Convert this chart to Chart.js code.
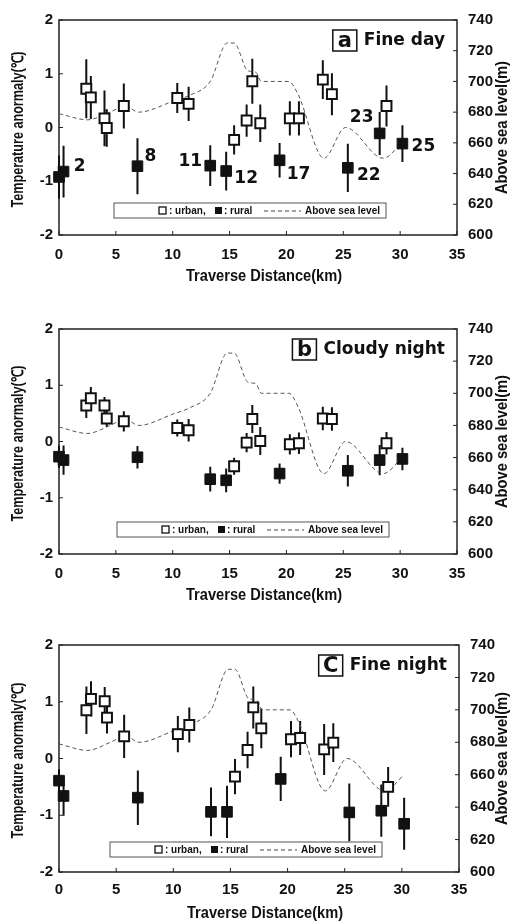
<!DOCTYPE html>
<html>
<head>
<meta charset="utf-8">
<script src="https://cdn.jsdelivr.net/npm/chart.js@4.4.1/dist/chart.umd.min.js"></script>
<style>
html, body { margin: 0; padding: 0; background: #fff; }
body { width: 525px; height: 924px; position: relative; overflow: hidden; }
canvas { position: absolute; left: 0; }
</style>
</head>
<body>
<canvas id="chartA" width="525" height="290" style="top:0px"></canvas>
<canvas id="chartB" width="525" height="310" style="top:300px"></canvas>
<canvas id="chartC" width="525" height="314" style="top:610px"></canvas>
<script>
// tick values
const xTicks = [0, 5, 10, 15, 20, 25, 30, 35];
const tempTicks = [-2, -1, 0, 1, 2];
const elevTicks = [600, 620, 640, 660, 680, 700, 720, 740];

// station positions along the traverse (km)
const urbanX = [2.4, 2.8, 4.0, 4.2, 5.7, 10.4, 11.4, 15.4, 16.5, 17.0, 17.7, 20.3, 21.1, 23.2, 24.0, 28.8];
const ruralX = [0.0, 0.4, 6.9, 13.3, 14.7, 19.4, 25.4, 28.2, 30.2];

// elevation profile (m)
const elevX = [0, 2.5, 4.5, 5.8, 7, 10, 11.5, 13.3, 14.8, 15.4, 16.6, 17.3, 17.8, 20.2, 21, 23.3, 25.2, 28.5, 30.2];
const elevM = [679, 675, 680, 684, 680, 687, 691, 700, 725, 725, 707, 706, 700, 700, 692, 650, 670, 650, 660];

// a: fine day
const urbanA = [0.72, 0.56, 0.17, -0.01, 0.40, 0.55, 0.44, -0.23, 0.13, 0.86, 0.08, 0.17, 0.17, 0.89, 0.62, 0.40];
const urbanErrA = [0.55, 0.40, 0.52, 0.35, 0.42, 0.28, 0.32, 0.27, 0.30, 0.42, 0.35, 0.32, 0.32, 0.36, 0.39, 0.38];
const ruralA = [-0.92, -0.82, -0.72, -0.71, -0.81, -0.61, -0.75, -0.11, -0.30];
const ruralErrA = [0.40, 0.48, 0.52, 0.38, 0.36, 0.32, 0.45, 0.40, 0.34];
const ruralNames = ['', '2', '8', '11', '12', '17', '22', '23', '25'];

// b: cloudy night
const urbanB = [0.64, 0.77, 0.64, 0.41, 0.36, 0.24, 0.20, -0.44, -0.02, 0.40, 0.01, -0.05, -0.03, 0.41, 0.40, -0.03];
const urbanErrB = [0.22, 0.20, 0.15, 0.15, 0.18, 0.15, 0.20, 0.15, 0.17, 0.25, 0.25, 0.18, 0.19, 0.21, 0.21, 0.20];
const ruralB = [-0.27, -0.33, -0.28, -0.67, -0.69, -0.57, -0.52, -0.33, -0.31];
const ruralErrB = [0.20, 0.26, 0.20, 0.22, 0.21, 0.18, 0.28, 0.27, 0.20];

// c: fine night
const urbanC = [0.85, 1.05, 1.01, 0.72, 0.39, 0.43, 0.59, -0.32, 0.15, 0.90, 0.53, 0.34, 0.36, 0.16, 0.28, -0.50];
const urbanErrC = [0.42, 0.31, 0.25, 0.28, 0.38, 0.32, 0.31, 0.31, 0.32, 0.37, 0.35, 0.32, 0.30, 0.45, 0.34, 0.35];
const ruralC = [-0.39, -0.66, -0.69, -0.94, -0.94, -0.36, -0.95, -0.92, -1.15];
const ruralErrC = [0.20, 0.35, 0.48, 0.43, 0.46, 0.39, 0.51, 0.46, 0.46];

const sans = "'Liberation Sans', Arial, sans-serif";

// squeeze text horizontally so it spans the given width
function fitText(ctx, text, x, y, width, rotated) {
    const w = ctx.measureText(text).width;
    ctx.save();
    ctx.translate(x, y);
    if (rotated) ctx.rotate(-Math.PI / 2);
    ctx.scale(Math.min(1, width / w), 1);
    ctx.fillText(text, 0, 0);
    ctx.restore();
}

// box, inward ticks and error bars
const frame = {
    id: 'frame',
    beforeDatasetsDraw(chart) {
        const {ctx, chartArea: a, scales} = chart;
        ctx.save();
        ctx.strokeStyle = '#222';
        ctx.lineWidth = 1.5;
        ctx.strokeRect(a.left, a.top, a.right - a.left, a.bottom - a.top);
        ctx.lineWidth = 1;
        ctx.beginPath();
        xTicks.forEach(v => {
            const p = scales.x.getPixelForValue(v);
            ctx.moveTo(p, a.bottom); ctx.lineTo(p, a.bottom - 4);
        });
        tempTicks.forEach(v => {
            const p = scales.y.getPixelForValue(v);
            ctx.moveTo(a.left, p); ctx.lineTo(a.left + 4, p);
        });
        elevTicks.forEach(v => {
            const p = scales.y2.getPixelForValue(v);
            ctx.moveTo(a.right, p); ctx.lineTo(a.right - 4, p);
        });
        ctx.stroke();

        ctx.strokeStyle = '#111';
        ctx.lineWidth = 2;
        ctx.beginPath();
        chart.data.datasets.forEach(ds => {
            if (!ds.errors) return;
            ds.data.forEach((pt, j) => {
                const px = scales.x.getPixelForValue(pt.x);
                ctx.moveTo(px, scales.y.getPixelForValue(pt.y + ds.errors[j]));
                ctx.lineTo(px, scales.y.getPixelForValue(pt.y - ds.errors[j]));
            });
        });
        ctx.stroke();
        ctx.restore();
    }
};

// panel letter, legend box, station numbers, axis titles
const deco = {
    id: 'deco',
    afterDraw(chart, args, opts) {
        const {ctx, chartArea: a} = chart;
        ctx.save();
        ctx.fillStyle = '#111';
        ctx.strokeStyle = '#111';

        // panel title
        ctx.font = "bold 17px 'DejaVu Sans', sans-serif";
        ctx.textAlign = 'right';
        ctx.textBaseline = 'middle';
        const tx = a.right - 12, ty = a.top + 21;
        ctx.fillText(opts.title, tx, ty);
        const tw = ctx.measureText(opts.title).width;
        const bx = tx - tw - 31;
        ctx.lineWidth = 1.5;
        ctx.strokeRect(bx, a.top + 10, 24, 21);
        ctx.font = "bold 21px 'DejaVu Sans', sans-serif";
        ctx.textAlign = 'center';
        ctx.fillText(opts.letter, bx + 12, ty + 1);

        // legend
        const lx = a.left + opts.legendDX, ly = a.bottom - opts.legendDY;
        ctx.lineWidth = 1;
        ctx.strokeStyle = '#555';
        ctx.strokeRect(lx, ly, 272, 15);
        const my = ly + 8;
        ctx.strokeStyle = '#111';
        ctx.lineWidth = 1.3;
        ctx.strokeRect(lx + 45, my - 4, 7, 7);
        ctx.fillRect(lx + 101, my - 4, 7, 7);
        ctx.font = "bold 10px " + sans;
        ctx.textAlign = 'left';
        fitText(ctx, ': urban,', lx + 55, my, 38);
        fitText(ctx, ': rural', lx + 110, my, 36);
        fitText(ctx, 'Above sea level', lx + 191, my, 75);
        ctx.setLineDash([4, 3]);
        ctx.lineWidth = 1;
        ctx.strokeStyle = '#444';
        ctx.beginPath();
        ctx.moveTo(lx + 150, my); ctx.lineTo(lx + 187, my);
        ctx.stroke();
        ctx.setLineDash([]);

        // station numbers
        if (opts.names) {
            const meta = chart.getDatasetMeta(1);
            ctx.font = "bold 17px 'DejaVu Sans', sans-serif";
            ctx.textAlign = 'center';
            opts.names.forEach((n, j) => {
                if (!n) return;
                const el = meta.data[j];
                const off = opts.nameOffsets[j];
                ctx.fillText(n, el.x + off[0], el.y + off[1]);
            });
        }

        // axis titles (side ones read bottom to top)
        const mid = (a.top + a.bottom) / 2;
        ctx.font = "bold 16px " + sans;
        ctx.textAlign = 'center';
        fitText(ctx, 'Temperature anormaly(℃)', 19, mid + 2, 156, true);
        fitText(ctx, 'Above sea level(m)', chart.width - 22, mid, 133, true);
        fitText(ctx, 'Traverse Distance(km)', (a.left + a.right) / 2 + 6, chart.height - opts.titleUp, 156, false);
        ctx.restore();
    }
};

function makePanel(id, urbanY, urbanErr, ruralY, ruralErr, p) {
    const tickFont = {family: sans, size: 15, weight: 'bold'};
    return new Chart(document.getElementById(id), {
        type: 'scatter',
        data: {
            datasets: [{
                label: 'urban',
                data: urbanX.map((x, i) => ({x: x, y: urbanY[i]})),
                errors: urbanErr,
                pointStyle: 'rect',
                pointRadius: 7,
                backgroundColor: '#fff',
                borderColor: '#111',
                borderWidth: 2,
                clip: false,
                order: 1
            }, {
                label: 'rural',
                data: ruralX.map((x, i) => ({x: x, y: ruralY[i]})),
                errors: ruralErr,
                pointStyle: 'rect',
                pointRadius: 7.5,
                backgroundColor: '#111',
                borderColor: '#111',
                borderWidth: 1,
                clip: false,
                order: 0
            }, {
                type: 'line',
                label: 'Above sea level',
                data: elevX.map((x, i) => ({x: x, y: elevM[i]})),
                yAxisID: 'y2',
                borderColor: '#555',
                borderWidth: 1,
                borderDash: [4, 3],
                pointRadius: 0,
                cubicInterpolationMode: 'monotone',
                fill: false,
                order: 2
            }]
        },
        options: {
            responsive: false,
            animation: false,
            layout: {padding: {top: p.top, left: 0, right: 0, bottom: 0}},
            plugins: {
                legend: {display: false},
                tooltip: {enabled: false},
                deco: p.deco
            },
            scales: {
                x: {
                    type: 'linear', min: 0, max: 35,
                    afterBuildTicks: s => { s.ticks = xTicks.map(v => ({value: v})); },
                    afterFit: s => { s.height = p.xh; },
                    grid: {display: false, drawTicks: false},
                    border: {display: false},
                    ticks: {font: tickFont, color: '#111', padding: p.xpad, maxRotation: 0}
                },
                y: {
                    type: 'linear', position: 'left', min: -2, max: 2,
                    afterBuildTicks: s => { s.ticks = tempTicks.map(v => ({value: v})); },
                    afterFit: s => { s.width = 59; },
                    grid: {display: false, drawTicks: false},
                    border: {display: false},
                    ticks: {font: tickFont, color: '#111', padding: 6}
                },
                y2: {
                    type: 'linear', position: 'right', min: 600, max: 740,
                    afterBuildTicks: s => { s.ticks = elevTicks.map(v => ({value: v})); },
                    afterFit: s => { s.width = p.rw; },
                    grid: {display: false, drawTicks: false},
                    border: {display: false},
                    ticks: {font: tickFont, color: '#111', padding: 11}
                }
            }
        },
        plugins: [frame, deco]
    });
}

makePanel('chartA', urbanA, urbanErrA, ruralA, ruralErrA, {
    top: 12, xh: 55, xpad: 11, rw: 68,
    deco: {
        letter: 'a', title: 'Fine day', legendDX: 55, legendDY: 32, titleUp: 13,
        names: ruralNames,
        nameOffsets: [[0, 0], [16, -5], [13, -10], [-20, -4], [20, 8], [19, 14], [21, 8], [-18, -16], [21, 3]]
    }
});
makePanel('chartB', urbanB, urbanErrB, ruralB, ruralErrB, {
    top: 29, xh: 56, xpad: 11, rw: 68,
    deco: {letter: 'b', title: 'Cloudy night', legendDX: 58, legendDY: 32, titleUp: 14}
});
makePanel('chartC', urbanC, urbanErrC, ruralC, ruralErrC, {
    top: 35, xh: 52, xpad: 9, rw: 66,
    deco: {letter: 'C', title: 'Fine night', legendDX: 51, legendDY: 30, titleUp: 10}
});
</script>
</body>
</html>
